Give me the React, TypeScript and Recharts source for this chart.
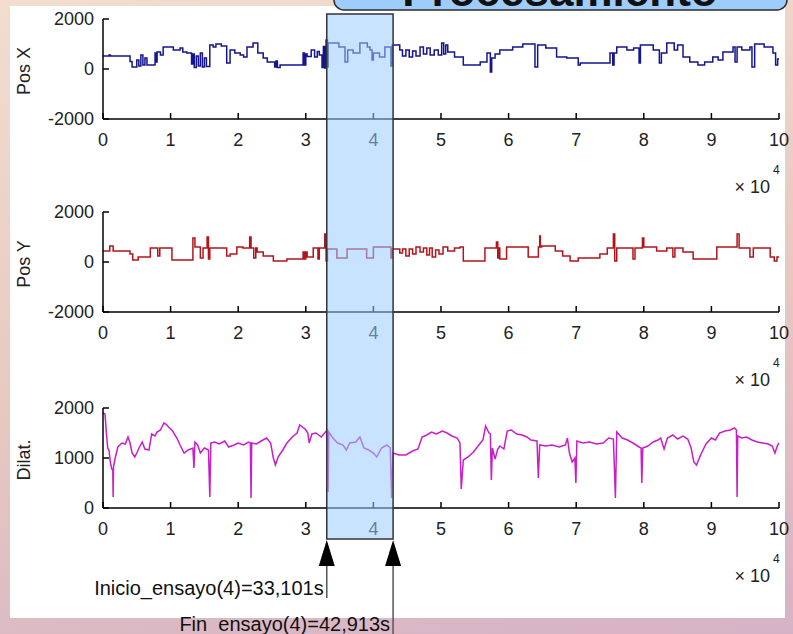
import React from 'react';
import { LineChart, Line, XAxis, YAxis } from 'recharts';

// time in seconds, values in sensor units
const X_TICKS = [0, 10000, 20000, 30000, 40000, 50000, 60000, 70000, 80000, 90000, 100000];
const POS_TICKS = [-2000, 0, 2000];
const DILAT_TICKS = [0, 1000, 2000];

const ENSAYO = 4;
const INICIO = 33101;
const FIN = 42913;

const posX: [number, number][] = [
  [0, 520], [900, 560], [1100, 520], [4000, 300], [4300, 80], [5000, 360], [5300, 120], [5600, 560],
  [5900, 160], [6200, 440], [6500, 160], [7700, 640], [7900, 280], [8000, 680], [8500, 560], [8900, 880],
  [10400, 760], [11400, 840], [11800, 680], [12400, 640], [13100, 200], [13300, 600], [13500, 60],
  [13800, 520], [14100, 120], [14400, 640], [14700, 80], [15000, 440], [15300, 100], [15800, 960],
  [16300, 880], [16700, 1000], [17500, 920], [18300, 240], [18800, 760], [19500, 640], [20300, 560],
  [20800, 480], [21300, 880], [22200, 1040], [22900, 640], [23700, 440], [24300, 280], [25400, 80],
  [25600, 320], [25800, 60], [26200, 160], [29600, 640], [29800, 160], [30000, 600], [30200, 500],
  [30800, 760], [31300, 480], [31700, 700], [32000, 560], [32400, 60], [32600, 900], [32800, 40],
  [33000, 1160], [33200, 80], [33300, 1040], [34900, 880], [35800, 280], [36200, 760], [37000, 640],
  [38000, 1040], [39100, 880], [39500, 760], [39800, 360], [40000, 640], [40900, 480], [41700, 880],
  [42600, 120], [42800, 960], [43900, 760], [44300, 520], [44800, 760], [45300, 480], [45800, 720],
  [46300, 520], [46900, 880], [47400, 600], [47900, 840], [48400, 560], [49000, 760], [49600, 560],
  [50100, 1040], [50400, 600], [50700, 960], [51000, 680], [52000, 480], [53300, 160], [55800, 280],
  [56800, 640], [57300, -120], [57500, 440], [58000, 600], [58700, 760], [60600, 880], [62100, 1000],
  [63900, 80], [64300, 960], [65500, 840], [67100, 480], [68600, 440], [70300, 160], [70600, 240],
  [75000, 640], [75400, 160], [75600, 640], [76000, 880], [77500, 760], [78500, 840], [79300, 240],
  [79500, 960], [81400, 760], [82300, 240], [82600, 640], [83400, 1040], [84500, 760], [85000, 960],
  [85800, 480], [86800, 280], [88000, 160], [89000, 280], [90200, 480], [91000, 360], [91700, 680],
  [93200, 880], [93500, 280], [93800, 880], [94500, 760], [95700, 880], [96000, 80], [96400, 1000],
  [97800, 880], [99100, 640], [99500, 160], [99800, 400], [100000, 400],
];

const posY: [number, number][] = [
  [0, 440], [1000, 640], [1500, 440], [4000, 320], [4400, 80], [5200, 200], [7000, 560], [8100, 240],
  [8400, 560], [10200, 80], [13300, 960], [13600, 600], [14400, 160], [14800, 560], [15400, 1000],
  [15600, 120], [15800, 560], [18300, 240], [18800, 320], [19800, 600], [20700, 560], [21700, 1000],
  [21900, 560], [22300, 160], [22600, 560], [22800, 400], [23700, 240], [25200, 40], [27200, 120],
  [29600, 400], [29800, 120], [30000, 400], [30200, 200], [31100, 560], [31800, 120], [32000, 560],
  [32800, 1120], [33000, 40], [33200, 520], [34600, 160], [36100, 520], [39000, 160], [40000, 600],
  [42600, 160], [42800, 520], [43900, 360], [44300, 520], [44800, 240], [45300, 520], [45800, 320],
  [46300, 600], [46900, 400], [47400, 560], [47900, 280], [48300, 560], [48700, 200], [49200, 480],
  [49700, 320], [50300, 600], [51000, 440], [52000, 560], [52800, 600], [53300, 40], [56500, 560],
  [58200, 800], [58400, 160], [58600, 560], [58700, 120], [59700, 600], [62900, 200], [64400, 600],
  [64600, 1040], [64700, 600], [64900, 640], [66900, 440], [68000, 240], [69100, 40], [70300, 160],
  [73500, 320], [74600, 560], [75500, 1120], [75700, 40], [76000, 560], [78400, 120], [78700, 560],
  [79800, 960], [80000, 600], [81900, 440], [83400, 560], [84300, 200], [84600, 560], [85800, 400],
  [87300, 120], [90800, 600], [93800, 1120], [94100, 560], [95700, 200], [96200, 560], [98700, 200],
  [99300, 40], [99700, 200], [100000, 200],
];

const dilat: [number, number][] = [
  [0, 1900], [300, 1880], [500, 1500], [700, 1200], [900, 1150], [1100, 900], [1300, 780], [1450, 760],
  [1500, 220], [1550, 820], [1800, 1000], [2200, 1220], [2800, 1300], [3300, 1280], [3700, 1420],
  [4000, 1300], [4300, 1100], [4700, 1020], [5000, 1100], [5400, 1220], [5800, 1320], [6200, 1180],
  [6800, 1160], [7200, 1480], [7700, 1440], [8000, 1520], [8500, 1560], [9000, 1700], [9300, 1680],
  [9700, 1620], [10300, 1540], [11000, 1380], [11400, 1260], [12000, 1100], [12600, 1160], [13300, 1200],
  [13450, 800], [13600, 1320], [14000, 1260], [14400, 1100], [15000, 1200], [15600, 1160], [15800, 220],
  [15950, 1300], [16500, 1320], [17200, 1280], [18000, 1340], [18600, 1220], [19400, 1260], [20000, 1300],
  [20800, 1260], [21500, 1320], [21800, 1300], [21900, 200], [22000, 1300], [22700, 1280], [23400, 1340],
  [24200, 1400], [24800, 1300], [25200, 1000], [25500, 860], [25900, 1020], [26600, 1160], [27200, 1300],
  [28000, 1420], [28700, 1500], [29100, 1660], [29500, 1620], [29900, 1580], [30300, 1500], [30500, 1300],
  [30900, 1480], [31500, 1500], [32300, 1420], [32900, 1520], [33200, 1560], [33300, 320], [33400, 1520],
  [34000, 1400], [34700, 1300], [35500, 1260], [36000, 1160], [36500, 1300], [37400, 1320], [38000, 1420],
  [38600, 1200], [39300, 1160], [40000, 1100], [40500, 1020], [41200, 1200], [42000, 1260], [42500, 1200],
  [42700, 200], [42900, 1100], [43800, 1060], [44800, 1060], [45800, 1140], [46600, 1180], [47200, 1420],
  [47900, 1460], [48600, 1520], [49300, 1480], [50200, 1540], [50900, 1500], [51600, 1440], [52400, 1400],
  [52800, 1300], [53000, 380], [53300, 960], [54000, 1020], [54800, 1120], [55600, 1260], [56200, 1360],
  [56600, 1640], [57100, 1500], [57300, 1480], [57450, 560], [57600, 1200], [58000, 980], [58400, 1180],
  [58700, 1240], [59300, 1180], [59800, 1540], [60400, 1560], [61200, 1480], [62000, 1460], [62700, 1420],
  [63300, 1360], [64200, 1340], [64400, 600], [64600, 1260], [65500, 1240], [66400, 1260], [67500, 1220],
  [68400, 1260], [68700, 1400], [69000, 1100], [69400, 920], [69800, 1000], [69950, 500], [70100, 1340],
  [71000, 1300], [72000, 1320], [73000, 1280], [74000, 1300], [74800, 1400], [75500, 1380], [75800, 200],
  [76000, 1520], [76800, 1400], [77600, 1360], [78400, 1300], [79300, 1220], [79600, 1200], [79700, 500],
  [79850, 1200], [80600, 1240], [81400, 1320], [82100, 1360], [82500, 1400], [83000, 1180], [83500, 1400],
  [84300, 1460], [85000, 1380], [85800, 1440], [86500, 1380], [87000, 1200], [87400, 920], [87800, 860],
  [88400, 1060], [89200, 1280], [90000, 1400], [90600, 1360], [91200, 1500], [92000, 1540], [92800, 1560],
  [93400, 1600], [93700, 1560], [93800, 220], [93900, 1440], [94500, 1400], [95200, 1420], [96000, 1360],
  [96800, 1320], [97600, 1300], [98400, 1280], [99000, 1240], [99400, 1100], [99800, 1260], [100000, 1300],
];

const W = 793;
const H = 634;
const PLOT_LEFT = 103;
const PLOT_RIGHT = 779;
const PLOT_H = 100;
const M_TOP = 20;
const FONT = '"Liberation Sans", Arial, Helvetica, sans-serif';

type Panel = {
  label: string;
  data: [number, number][];
  color: string;
  type: 'stepAfter' | 'linear';
  ticks: number[];
  top: number;
};

const panels: Panel[] = [
  { label: 'Pos X', data: posX, color: '#15158f', type: 'stepAfter', ticks: POS_TICKS, top: 19 },
  { label: 'Pos Y', data: posY, color: '#b3141c', type: 'stepAfter', ticks: POS_TICKS, top: 212 },
  { label: 'Dilat.', data: dilat, color: '#c81ec8', type: 'linear', ticks: DILAT_TICKS, top: 408 },
];

const axisLine = { stroke: '#000', strokeWidth: 1.5 };
const tickText = { fill: '#222', fontSize: 18, fontFamily: FONT };

// same linear mapping as the x axes, used for the annotation overlay
const xOf = (t: number) => PLOT_LEFT + (t / 100000) * (PLOT_RIGHT - PLOT_LEFT);

function PanelChart({ p }: { p: Panel }) {
  const rows = p.data.map(([t, v]) => ({ t, v }));
  const domain: [number, number] = [p.ticks[0], p.ticks[p.ticks.length - 1]];
  return (
    <div style={{ position: 'absolute', left: 0, top: p.top - M_TOP }}>
      <LineChart
        width={W}
        height={M_TOP + PLOT_H + 40}
        margin={{ top: M_TOP, right: W - PLOT_RIGHT, bottom: 0, left: 0 }}
      >
        <XAxis
          xAxisId="b"
          type="number"
          dataKey="t"
          domain={[0, 100000]}
          ticks={X_TICKS}
          interval={0}
          tickFormatter={(v: number) => String(v / 10000)}
          height={40}
          tickSize={-6}
          tickMargin={20}
          axisLine={axisLine}
          tickLine={axisLine}
          tick={tickText}
        />
        <XAxis
          xAxisId="t"
          orientation="top"
          type="number"
          dataKey="t"
          domain={[0, 100000]}
          ticks={X_TICKS}
          interval={0}
          height={0}
          tickSize={-6}
          axisLine={axisLine}
          tickLine={axisLine}
          tick={false}
        />
        <YAxis
          yAxisId="l"
          type="number"
          domain={domain}
          ticks={p.ticks}
          interval={0}
          width={PLOT_LEFT}
          tickSize={-6}
          tickMargin={15}
          axisLine={axisLine}
          tickLine={axisLine}
          tick={tickText}
        />
        <YAxis
          yAxisId="r"
          orientation="right"
          type="number"
          domain={domain}
          ticks={p.ticks}
          interval={0}
          width={0}
          tickSize={-6}
          axisLine={axisLine}
          tickLine={axisLine}
          tick={false}
        />
        <Line
          xAxisId="b"
          yAxisId="l"
          data={rows}
          dataKey="v"
          type={p.type}
          stroke={p.color}
          strokeWidth={1.5}
          dot={false}
          isAnimationActive={false}
        />
      </LineChart>
    </div>
  );
}

export default function App() {
  const x0 = xOf(INICIO);
  const x1 = xOf(FIN);
  const fmt = (n: number) => n.toLocaleString('en-US');
  return (
    <div
      style={{
        position: 'absolute',
        left: 0,
        top: 0,
        width: W,
        height: H,
        overflow: 'hidden',
        fontFamily: FONT,
        background: 'linear-gradient(170deg, #f2ddcf 0%, #e6c8c0 55%, #d6b2c6 100%)',
      }}
    >
      <div style={{ position: 'absolute', left: 10, top: 6, width: 775, height: 612, background: '#fff' }} />
      {panels.map((p) => (
        <PanelChart key={p.label} p={p} />
      ))}
      <svg width={W} height={H} style={{ position: 'absolute', left: 0, top: 0, pointerEvents: 'none' }}>
        {/* title box, cut off at the top as in the slide */}
        <rect x={334} y={-40} width={453} height={50} rx={10} fill="#9fcdfb" stroke="#2b2b2b" strokeWidth={1.5} />
        <text x={560} y={6} textAnchor="middle" fontSize={44} fontWeight="bold" fill="#111" fontFamily={FONT}>
          Procesamiento
        </text>

        {panels.map((p) => (
          <g key={p.label}>
            <text
              transform={`translate(24, ${p.top + PLOT_H / 2 + 2}) rotate(-90)`}
              textAnchor="middle"
              dominantBaseline="central"
              fontSize={18}
              fill="#222"
              fontFamily={FONT}
            >
              {p.label}
            </text>
            <text x={770} y={p.top + PLOT_H + 74} textAnchor="end" fontSize={18} fill="#222" fontFamily={FONT}>
              × 10
            </text>
            <text x={773} y={p.top + PLOT_H + 55} fontSize={12} fill="#222" fontFamily={FONT}>
              4
            </text>
          </g>
        ))}

        {/* trial window */}
        <rect x={x0} y={14} width={x1 - x0} height={525} fill="#99ccff" fillOpacity={0.55} stroke="#333" strokeWidth={1.5} />
        {[x0, x1].map((x, i) => (
          <g key={i}>
            <polygon points={`${x},540 ${x - 8},566 ${x + 8},566`} fill="#000" />
            <line x1={x} y1={566} x2={x} y2={i === 0 ? 598 : 634} stroke="#555" strokeWidth={1.5} />
          </g>
        ))}
        <text x={x0 - 3} y={595} textAnchor="end" fontSize={20} fill="#111" fontFamily={FONT}>
          {`Inicio_ensayo(${ENSAYO})=${fmt(INICIO)}s`}
        </text>
        <text x={x1 - 3} y={631} textAnchor="end" fontSize={20} fill="#111" fontFamily={FONT}>
          {`Fin_ensayo(${ENSAYO})=${fmt(FIN)}s`}
        </text>
      </svg>
    </div>
  );
}
